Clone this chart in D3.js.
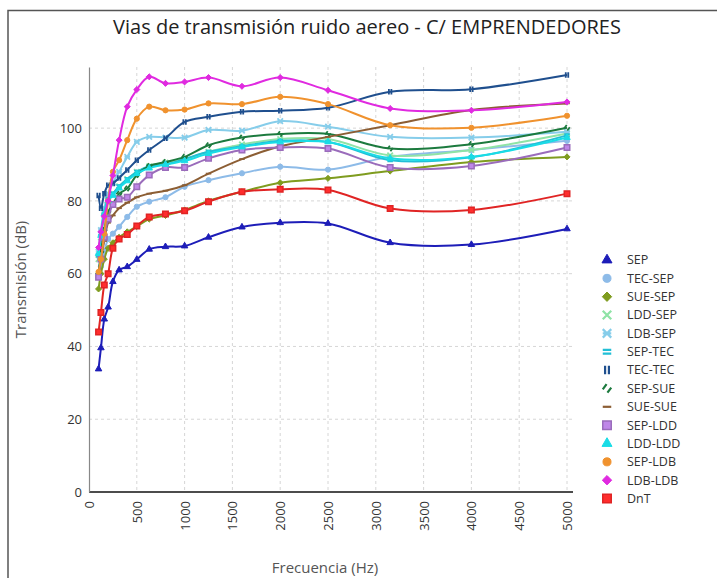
<!DOCTYPE html>
<html>
<head>
<meta charset="utf-8">
<script src="https://cdn.jsdelivr.net/npm/d3@7"></script>
<style>
  html, body { margin: 0; padding: 0; background: #fff; }
  svg { display: block; font-family: "Open Sans", "Noto Sans", sans-serif; }
</style>
</head>
<body>
<svg id="chart" width="717" height="578"></svg>
<script>
// Third-octave band centre frequencies (Hz)
const frequencies = [100, 125, 160, 200, 250, 315, 400, 500, 630, 800, 1000, 1250, 1600, 2000, 2500, 3150, 4000, 5000];

// Transmission (dB) per path
const SEP      = [33.8, 39.6, 47.5, 50.8, 57.8, 61.0, 61.9, 63.9, 66.7, 67.4, 67.6, 70.0, 72.8, 74.0, 73.8, 68.5, 68.0, 72.3];
const TEC_SEP  = [59.5, 62.0, 66.0, 69.5, 71.0, 72.9, 75.6, 78.4, 79.8, 81.0, 83.9, 85.7, 87.6, 89.4, 88.6, 92.1, 94.0, 96.5];
const SUE_SEP  = [55.8, 60.0, 64.0, 67.0, 68.5, 70.0, 71.5, 73.0, 75.0, 76.0, 77.5, 80.0, 82.5, 85.0, 86.2, 88.2, 90.7, 92.1];
const LDD_SEP  = [64.0, 70.0, 76.0, 80.0, 82.0, 84.0, 86.0, 88.0, 89.5, 90.5, 91.5, 93.5, 95.5, 97.0, 97.0, 92.5, 94.0, 98.5];
const LDB_SEP  = [66.0, 72.0, 78.0, 82.0, 85.0, 88.0, 92.1, 96.2, 97.6, 97.4, 97.4, 99.5, 99.3, 101.9, 100.4, 97.6, 97.4, 99.0];
const SEP_TEC  = [65.0, 71.0, 77.0, 80.5, 82.0, 84.0, 86.0, 88.0, 89.5, 90.0, 91.5, 93.5, 95.0, 96.5, 96.2, 91.2, 92.0, 98.0];
const TEC_TEC  = [81.5, 78.0, 82.0, 84.3, 84.8, 86.3, 88.5, 91.2, 94.0, 97.2, 101.7, 103.1, 104.5, 104.8, 105.6, 110.0, 110.7, 114.6];
const SEP_SUE  = [60.0, 66.0, 72.0, 77.0, 79.0, 82.0, 83.4, 87.1, 89.6, 90.7, 92.1, 95.3, 97.4, 98.4, 98.4, 94.4, 95.6, 100.1];
const SUE_SUE  = [59.0, 64.0, 69.0, 74.0, 76.0, 78.0, 79.5, 81.0, 82.0, 82.8, 84.3, 87.5, 91.5, 95.0, 97.6, 100.8, 105.0, 106.8];
const SEP_LDD  = [59.0, 64.0, 70.0, 75.0, 79.0, 80.5, 81.0, 83.9, 87.1, 89.2, 89.2, 91.7, 94.0, 94.7, 94.4, 89.2, 89.6, 94.7];
const LDD_LDD  = [65.5, 70.5, 76.5, 80.0, 81.5, 83.5, 85.5, 87.5, 89.0, 90.0, 91.0, 93.0, 94.8, 96.2, 96.2, 91.7, 92.1, 97.4];
const SEP_LDB  = [60.5, 64.0, 71.0, 80.0, 88.0, 91.2, 96.7, 102.6, 105.9, 104.9, 105.1, 106.8, 106.6, 108.6, 106.6, 100.8, 100.1, 103.4];
const LDB_LDB  = [67.2, 71.5, 75.8, 80.0, 87.0, 96.7, 105.9, 110.6, 114.1, 112.3, 112.7, 113.9, 111.5, 113.9, 110.4, 105.4, 104.9, 107.2];
const DnT      = [44.0, 49.3, 56.9, 60.0, 67.0, 69.5, 70.8, 73.1, 75.6, 76.4, 77.3, 79.8, 82.5, 83.2, 83.0, 77.9, 77.5, 82.0];

const seriesNames = ["SEP", "TEC-SEP", "SUE-SEP", "LDD-SEP", "LDB-SEP", "SEP-TEC", "TEC-TEC",
                     "SEP-SUE", "SUE-SUE", "SEP-LDD", "LDD-LDD", "SEP-LDB", "LDB-LDB", "DnT"];
const seriesValues = [SEP, TEC_SEP, SUE_SEP, LDD_SEP, LDB_SEP, SEP_TEC, TEC_TEC,
                      SEP_SUE, SUE_SUE, SEP_LDD, LDD_LDD, SEP_LDB, LDB_LDB, DnT];
const seriesColors = ["#1d1db8", "#8dbbe8", "#7f9c1f", "#8fe3a6", "#86cdea", "#22bfd6", "#1f4f8e",
                      "#1c7a3e", "#8c5e34", "#9a6cbb", "#19dce6", "#f0922e", "#e02ae0", "#e02424"];
const seriesMarkers = ["triangle", "circle", "diamond", "x", "asterisk", "equals", "bars",
                       "slashes", "dash", "square", "triangle", "circle", "diamond", "square"];

const xTicks = [0, 500, 1000, 1500, 2000, 2500, 3000, 3500, 4000, 4500, 5000];
const yTicks = [0, 20, 40, 60, 80, 100];

const title = "Vias de transmisión ruido aereo - C/ EMPRENDEDORES";
const xTitle = "Frecuencia (Hz)";
const yTitle = "Transmisión (dB)";

const svg = d3.select("#chart");

// Outer frame (top and left edges)
svg.append("path")
  .attr("d", "M8,578 V10.5 H717")
  .attr("fill", "none").attr("stroke", "#555").attr("stroke-width", 1.5);

const plot = { left: 89, right: 567, top: 67, bottom: 492 };

const x = d3.scaleLinear().domain([0, 5000]).range([plot.left, plot.right]);
const y = d3.scaleLinear().domain([0, 116.8]).range([plot.bottom, plot.top]);

// Title
svg.append("text")
  .attr("x", 367).attr("y", 34)
  .attr("text-anchor", "middle")
  .attr("font-size", 20).attr("fill", "#222")
  .text(title);

// Grid
const grid = svg.append("g");
grid.selectAll(".vg").data(xTicks.filter(d => d > 0)).join("line")
  .attr("x1", d => x(d)).attr("x2", d => x(d))
  .attr("y1", plot.top).attr("y2", plot.bottom)
  .attr("stroke", "#d6d6d6").attr("stroke-dasharray", "3,3");
grid.selectAll(".hg").data(yTicks.filter(d => d > 0)).join("line")
  .attr("x1", plot.left).attr("x2", plot.right + 6)
  .attr("y1", d => y(d)).attr("y2", d => y(d))
  .attr("stroke", "#d6d6d6").attr("stroke-dasharray", "3,3");

// Axes
const xAxis = svg.append("g")
  .attr("transform", `translate(0,${plot.bottom})`)
  .call(d3.axisBottom(x).tickValues(xTicks).tickSize(0).tickPadding(8).tickFormat(d3.format("d")));
xAxis.select(".domain").attr("stroke", "#111").attr("stroke-width", 1.6)
  .attr("d", `M${plot.left},0H${plot.right + 6}`);
xAxis.selectAll("text")
  .attr("font-size", 13).attr("fill", "#333")
  .attr("font-family", "\"Open Sans\", sans-serif")
  .attr("transform", "rotate(-90)")
  .attr("text-anchor", "end")
  .attr("x", -9).attr("y", 0).attr("dy", "0.35em");

const yAxis = svg.append("g")
  .attr("transform", `translate(${plot.left},0)`)
  .call(d3.axisLeft(y).tickValues(yTicks).tickSize(0).tickPadding(7).tickFormat(d3.format("d")));
yAxis.select(".domain").attr("stroke", "#888").attr("stroke-width", 1.2);
yAxis.selectAll("text").attr("font-size", 13).attr("fill", "#333")
  .attr("font-family", "\"Open Sans\", sans-serif");

// Axis titles
svg.append("text")
  .attr("transform", `translate(26,${(plot.top + plot.bottom) / 2}) rotate(-90)`)
  .attr("text-anchor", "middle")
  .attr("font-size", 15).attr("fill", "#555")
  .text(yTitle);
svg.append("text")
  .attr("x", 325).attr("y", 573)
  .attr("text-anchor", "middle")
  .attr("font-size", 15).attr("fill", "#555")
  .text(xTitle);

// Marker shapes centred at 0,0
function markerPath(type, s) {
  const h = s / 2;
  switch (type) {
    case "triangle": return d3.symbol(d3.symbolTriangle, s * s * 0.6)();
    case "circle":   return d3.symbol(d3.symbolCircle, s * s * 0.7)();
    case "diamond":  return `M0,${-h * 1.1}L${h * 1.1},0L0,${h * 1.1}L${-h * 1.1},0Z`;
    case "square":   return `M${-h},${-h}H${h}V${h}H${-h}Z`;
    case "x":        return `M${-h},${-h}L${h},${h}M${h},${-h}L${-h},${h}`;
    case "asterisk": return `M${-h},${-h}L${h},${h}M${h},${-h}L${-h},${h}M${-h},0H${h}`;
    case "equals":   return `M${-h},${-h * 0.45}H${h}M${-h},${h * 0.45}H${h}`;
    case "bars":     return `M${-h * 0.45},${-h}V${h}M${h * 0.45},${-h}V${h}`;
    case "slashes":  return `M${-h},${h * 0.2}L${-h * 0.1},${-h}M${h * 0.1},${h}L${h},${-h * 0.2}`;
    case "dash":     return `M${-h},0H${h}`;
  }
}
const filledTypes = new Set(["triangle", "circle", "diamond", "square"]);
function styleMarker(sel, type, color, legend) {
  if (filledTypes.has(type)) {
    sel.attr("fill", type === "square" ? d3.color(color).brighter(0.6) : color)
       .attr("stroke", color).attr("stroke-width", type === "square" ? 1.5 : 1);
  } else {
    sel.attr("fill", "none").attr("stroke", color).attr("stroke-width", legend ? 2.2 : 1.8);
  }
}

// Series
const line = d3.line()
  .x((d, i) => x(frequencies[i]))
  .y(d => y(d))
  .curve(d3.curveCatmullRom.alpha(0.5));

const seriesG = svg.append("g");
seriesNames.forEach((name, k) => {
  const vals = seriesValues[k];
  const color = seriesColors[k];
  const g = seriesG.append("g").attr("class", "series");
  g.append("path")
    .attr("d", line(vals))
    .attr("fill", "none")
    .attr("stroke", color)
    .attr("stroke-width", 2)
    .attr("stroke-linejoin", "round");
  g.selectAll("path.mk").data(vals).join("path")
    .attr("class", "mk")
    .attr("transform", (d, i) => `translate(${x(frequencies[i])},${y(d)})`)
    .attr("d", markerPath(seriesMarkers[k], 5.5))
    .call(sel => styleMarker(sel, seriesMarkers[k], color, false));
});

// Legend
const legend = svg.append("g").attr("transform", "translate(607,260)");
const legendItems = legend.selectAll("g").data(seriesNames).join("g")
  .attr("transform", (d, i) => `translate(0,${i * 18.35})`);
legendItems.append("path")
  .attr("d", (d, i) => markerPath(seriesMarkers[i], 8.5))
  .each(function (d, i) { styleMarker(d3.select(this), seriesMarkers[i], seriesColors[i], true); });
legendItems.append("text")
  .attr("x", 20).attr("dy", "0.35em")
  .attr("font-size", 12.5).attr("fill", "#333")
  .text(d => d);
</script>
</body>
</html>
